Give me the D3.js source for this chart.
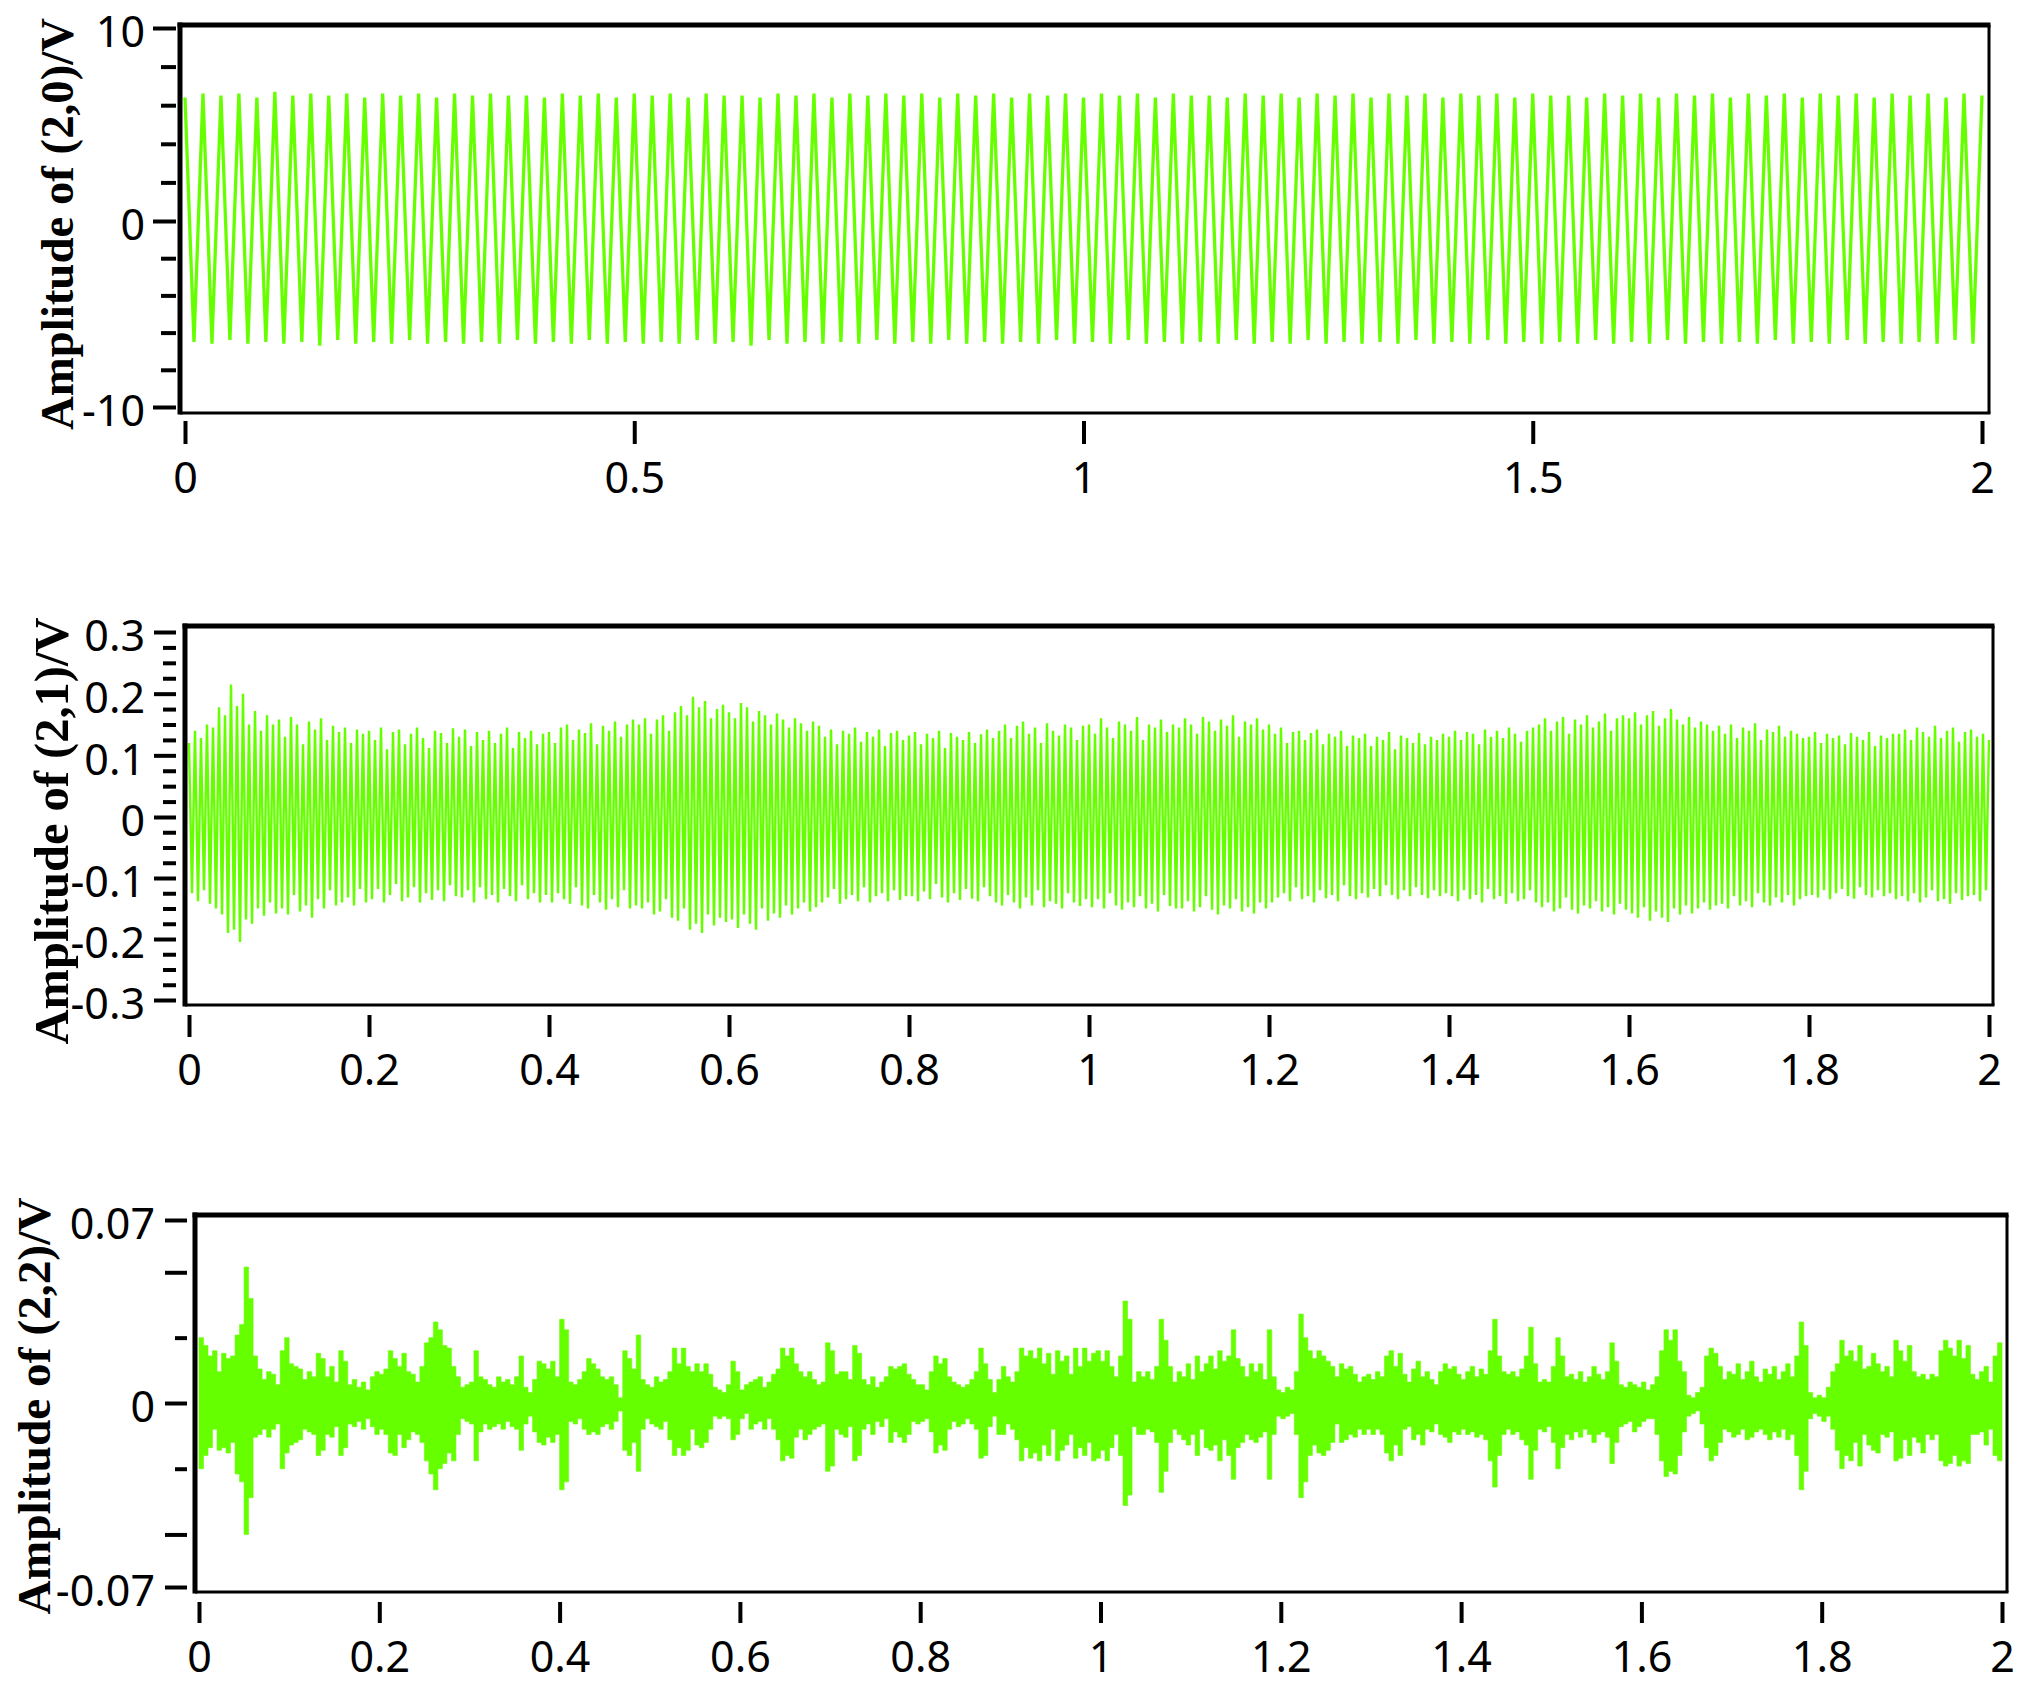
<!DOCTYPE html>
<html><head><meta charset="utf-8">
<script src="https://cdn.jsdelivr.net/npm/d3@7"></script>
<style>html,body{margin:0;padding:0;background:#fff}svg{display:block}</style>
</head><body>
<svg id="chart" width="2037" height="1693"></svg>
<script>
// ---------------- DATA ----------------
// Panel 1: (2,0) component, ~50 Hz -> one positive and one negative peak every 0.02 s
const p1PeakPeriod = 0.02;
const p1PeakHi = [6.4,6.6,6.5,6.6,6.4,6.7,6.5,6.6,6.5,6.6,6.4,6.6,6.5,6.6,6.4,6.6,6.5,6.6,6.5,6.5,
6.4,6.6,6.5,6.6,6.4,6.6,6.5,6.6,6.4,6.6,6.5,6.5,6.4,6.6,6.5,6.6,6.4,6.6,6.5,6.6,
6.5,6.6,6.4,6.6,6.5,6.6,6.4,6.6,6.5,6.6,6.4,6.6,6.5,6.6,6.4,6.6,6.5,6.5,6.4,6.6,
6.5,6.6,6.4,6.6,6.5,6.6,6.4,6.6,6.5,6.6,6.4,6.6,6.5,6.6,6.4,6.6,6.5,6.5,6.4,6.6,
6.5,6.6,6.4,6.6,6.5,6.6,6.4,6.6,6.5,6.6,6.4,6.6,6.5,6.6,6.4,6.6,6.5,6.6,6.4,6.6,6.5];
const p1PeakLo = [-6.5,-6.6,-6.4,-6.6,-6.5,-6.6,-6.5,-6.7,-6.4,-6.6,-6.5,-6.6,-6.4,-6.6,-6.5,-6.6,-6.5,-6.6,-6.4,-6.6,
-6.5,-6.6,-6.4,-6.6,-6.5,-6.6,-6.5,-6.6,-6.4,-6.6,-6.5,-6.7,-6.4,-6.6,-6.5,-6.6,-6.5,-6.6,-6.4,-6.6,
-6.5,-6.6,-6.4,-6.6,-6.5,-6.6,-6.5,-6.6,-6.4,-6.6,-6.5,-6.6,-6.4,-6.6,-6.5,-6.6,-6.5,-6.6,-6.4,-6.6,
-6.5,-6.6,-6.4,-6.6,-6.5,-6.6,-6.5,-6.6,-6.4,-6.6,-6.5,-6.6,-6.4,-6.6,-6.5,-6.6,-6.5,-6.6,-6.4,-6.6,
-6.5,-6.6,-6.4,-6.6,-6.5,-6.6,-6.5,-6.6,-6.4,-6.6,-6.5,-6.6,-6.4,-6.6,-6.5,-6.6,-6.5,-6.6,-6.4,-6.6];

// Panel 2: (2,1) component, ~150 Hz -> peaks every 1/150 s, values in mV
const p2PeakPeriod = 1 / 150;
const p2PeakHiMilliV = [
120,140,128,150,145,178,165,215,180,200,150,172,140,165,150,
158,130,162,150,118,155,142,160,125,148,138,145,120,142,135,
140,125,145,110,138,142,118,135,145,128,112,140,136,120,144,
130,142,115,138,125,140,120,135,145,112,138,128,140,118,135,
138,120,145,150,125,142,136,152,118,148,140,155,130,150,158,
150,160,135,158,165,140,170,180,165,195,178,188,160,175,182,
170,160,185,178,155,172,165,150,168,158,145,160,152,140,155,
148,130,142,118,140,135,145,122,138,130,142,115,136,140,125,
132,138,118,135,128,140,112,136,130,125,138,120,134,142,128,
140,150,128,148,155,135,145,120,152,140,132,150,145,125,148,
150,135,160,145,128,155,150,140,162,125,150,145,158,138,150,
145,160,150,135,162,155,140,158,148,165,130,155,150,160,142,
150,135,145,120,138,140,125,136,142,118,135,130,140,115,132,
128,135,115,130,125,138,110,132,128,120,136,118,130,125,135,
130,140,125,138,135,118,142,130,140,128,145,135,122,140,145,
150,160,140,155,162,135,158,150,165,145,155,168,140,160,165,
160,170,150,165,172,148,160,175,158,150,162,145,155,150,140,
148,135,150,128,145,140,152,125,142,138,148,130,140,135,128,
130,138,120,135,128,132,118,136,130,125,138,115,132,128,135,
135,142,125,145,138,130,148,128,140,145,122,138,142,130,135,125];
const p2PeakLoMilliV = [
-125,-138,-120,-142,-150,-160,-190,-185,-205,-168,-175,-150,-162,-140,-158,
-150,-160,-128,-155,-145,-165,-135,-150,-120,-145,-140,-132,-145,-118,-140,
-135,-118,-140,-128,-110,-138,-132,-115,-140,-125,-136,-120,-138,-112,-130,
-132,-120,-140,-115,-135,-128,-140,-118,-130,-138,-112,-135,-125,-140,-128,
-140,-125,-135,-142,-115,-145,-150,-128,-140,-152,-135,-148,-120,-150,-145,
-150,-140,-160,-155,-135,-165,-170,-150,-185,-175,-190,-160,-178,-165,-172,
-168,-182,-160,-175,-185,-150,-170,-158,-165,-145,-160,-150,-140,-155,-148,
-140,-132,-118,-142,-135,-128,-138,-115,-140,-130,-125,-138,-120,-136,-130,
-130,-138,-122,-135,-110,-132,-140,-125,-136,-118,-134,-138,-115,-130,-140,
-145,-128,-140,-150,-132,-145,-120,-148,-138,-142,-150,-125,-140,-146,-135,
-148,-135,-150,-125,-145,-152,-140,-148,-130,-150,-142,-155,-128,-146,-150,
-150,-138,-155,-148,-130,-152,-160,-145,-150,-135,-155,-148,-158,-140,-150,
-140,-132,-125,-138,-115,-135,-130,-140,-120,-133,-128,-138,-112,-130,-135,
-125,-132,-118,-130,-112,-128,-135,-120,-130,-115,-128,-133,-120,-130,-125,
-130,-138,-120,-135,-128,-140,-118,-135,-130,-142,-125,-138,-135,-120,-140,
-148,-140,-155,-150,-132,-152,-158,-145,-150,-138,-155,-148,-160,-142,-152,
-158,-165,-148,-170,-155,-165,-172,-150,-160,-145,-158,-150,-140,-152,-145,
-142,-150,-130,-145,-138,-148,-125,-140,-145,-132,-140,-128,-145,-135,-130,
-128,-132,-120,-135,-125,-118,-130,-134,-115,-128,-132,-120,-130,-125,-135,
-130,-138,-125,-140,-132,-120,-138,-135,-142,-125,-136,-130,-128,-138,-120];

// Panel 3: (2,2) component, noise band: max / min per 0.005 s column, values in mV
const p3ColumnStep = 0.005;
const p3ColumnHiMilliV = [
25,22,18,20,12,19,17,18,26,30,52,40,18,13,9,12,11,7,20,25,
15,14,13,9,12,10,19,17,10,14,8,20,16,7,9,6,8,5,10,12,
11,13,20,17,14,19,12,11,8,14,23,25,31,28,22,21,14,10,6,7,
8,20,10,9,7,6,10,8,9,7,10,18,6,4,9,16,15,13,16,10,
32,28,8,7,9,12,17,15,13,10,9,10,7,2,20,17,13,26,9,7,
6,10,8,9,12,21,15,21,14,12,15,12,15,11,6,5,4,7,16,12,
5,7,8,9,10,6,8,11,13,21,18,21,15,12,10,12,9,7,8,23,
20,11,12,12,9,22,19,9,7,10,6,8,10,14,13,14,15,11,9,7,
7,5,12,18,15,17,10,8,7,6,7,9,12,21,15,9,4,9,14,10,
8,12,21,18,20,17,21,15,19,11,20,16,18,11,21,14,21,16,19,20,
16,20,14,10,18,39,32,8,12,10,12,9,14,32,24,14,8,12,10,15,
9,18,12,15,18,13,20,16,18,28,17,14,10,15,12,15,9,28,10,5,
4,6,5,12,34,25,20,17,20,18,16,14,10,15,13,14,11,8,10,11,
9,12,10,18,20,14,19,11,8,13,16,10,12,9,7,12,15,13,14,11,
9,12,14,10,13,11,20,32,18,12,11,12,10,13,18,29,15,8,9,8,
14,25,18,10,11,9,12,8,10,14,11,9,12,23,16,7,6,8,7,6,
8,5,7,10,20,28,24,28,16,12,3,2,4,6,18,21,19,14,9,12,
11,15,9,12,16,10,8,13,11,14,9,12,15,10,18,31,22,4,2,3,
2,6,12,15,24,18,20,16,22,13,14,19,15,12,14,10,24,20,16,22,
12,10,11,9,11,10,20,24,21,18,24,17,22,11,9,12,14,8,18,23];
const p3ColumnLoMilliV = [
-25,-20,-17,-10,-18,-17,-19,-15,-27,-30,-50,-36,-13,-12,-10,-13,-10,-8,-25,-19,
-16,-15,-14,-10,-11,-12,-20,-18,-12,-13,-9,-20,-17,-8,-9,-7,-10,-6,-9,-12,
-10,-12,-19,-20,-12,-17,-14,-11,-12,-15,-22,-27,-33,-25,-23,-19,-22,-12,-6,-7,
-8,-22,-11,-8,-10,-9,-8,-10,-7,-9,-10,-18,-8,-5,-11,-15,-16,-13,-15,-12,
-33,-30,-7,-8,-6,-10,-12,-11,-12,-9,-8,-10,-7,-3,-18,-20,-15,-26,-10,-6,
-8,-9,-10,-7,-14,-20,-17,-20,-18,-10,-16,-17,-15,-10,-5,-6,-5,-6,-14,-12,
-6,-4,-10,-8,-7,-10,-6,-10,-14,-22,-20,-21,-13,-10,-14,-12,-10,-9,-8,-26,
-24,-10,-12,-13,-9,-22,-20,-10,-8,-12,-7,-9,-6,-15,-11,-13,-15,-12,-7,-8,
-7,-6,-11,-19,-16,-18,-10,-7,-9,-8,-6,-8,-10,-21,-20,-9,-5,-12,-12,-8,
-10,-14,-22,-17,-21,-19,-22,-16,-20,-10,-22,-18,-16,-12,-21,-17,-20,-15,-22,-21,
-18,-22,-17,-12,-20,-39,-35,-9,-12,-12,-10,-11,-15,-34,-26,-15,-10,-12,-14,-16,
-12,-20,-10,-17,-18,-16,-22,-14,-20,-29,-17,-15,-12,-14,-15,-13,-11,-29,-12,-5,
-6,-5,-4,-12,-36,-30,-20,-16,-19,-20,-18,-15,-8,-15,-14,-12,-13,-10,-12,-10,
-12,-10,-12,-19,-22,-16,-20,-10,-9,-14,-12,-16,-10,-11,-8,-12,-13,-15,-11,-12,
-10,-12,-11,-13,-12,-14,-22,-32,-20,-12,-10,-12,-11,-14,-16,-29,-18,-10,-11,-9,
-15,-25,-17,-12,-14,-11,-13,-10,-12,-15,-12,-11,-13,-23,-15,-9,-8,-7,-11,-9,
-7,-6,-6,-12,-22,-28,-26,-27,-20,-11,-5,-4,-3,-8,-17,-22,-20,-15,-10,-11,
-13,-12,-10,-14,-13,-11,-10,-12,-14,-11,-13,-10,-14,-12,-20,-33,-26,-6,-4,-5,
-7,-5,-10,-18,-25,-20,-22,-15,-24,-12,-16,-18,-19,-12,-13,-11,-22,-21,-14,-20,
-13,-15,-19,-12,-14,-12,-22,-24,-23,-20,-24,-22,-23,-12,-12,-11,-16,-10,-20,-22];

// Axis ticks and labels
const p1YTicks = [10, 0, -10];
const p1YLabels = ["10", "0", "-10"];
const p1YMinorTicks = [8, 6, 4, 2, -2, -4, -6, -8];
const p1XTicks = [0, 0.5, 1, 1.5, 2];
const p1XLabels = ["0", "0.5", "1", "1.5", "2"];

const p2YTicks = [0.3, 0.2, 0.1, 0, -0.1, -0.2, -0.3];
const p2YLabels = ["0.3", "0.2", "0.1", "0", "-0.1", "-0.2", "-0.3"];
const p2YMinorTicks = [0.275,0.25,0.225,0.175,0.15,0.125,0.075,0.05,0.025,-0.025,-0.05,-0.075,-0.125,-0.15,-0.175,-0.225,-0.25,-0.275];

const p3YTicks = [0.07, 0.05, 0, -0.05, -0.07];
const p3YLabels = ["0.07", "", "0", "", "-0.07"];
const p3YMinorTicks = [0.025, -0.025];

const p23XTicks = [0, 0.2, 0.4, 0.6, 0.8, 1, 1.2, 1.4, 1.6, 1.8, 2];
const p23XLabels = ["0", "0.2", "0.4", "0.6", "0.8", "1", "1.2", "1.4", "1.6", "1.8", "2"];

const titles = ["Amplitude of (2,0)/V", "Amplitude of (2,1)/V", "Amplitude of (2,2)/V"];

// ---------------- LAYOUT ----------------
const GREEN = "#66ff00";
const TICK_FONT = "'Noto Sans','Open Sans',sans-serif";
const TITLE_FONT = "'Liberation Serif','Times New Roman',serif";

const panels = [
  { frame:{l:180,t:25,r:1989,b:413}, xRange:[185,1982], yDomain:[-10,0,10], yRange:[407,221,28],
    yAxisX:176, majorLen:23, minorLen:15, labelRight:145, xAxisY:421, xTickLen:23, xLabelY:478,
    title:{x:73,y:224,size:47,len:412},
    yTicks:p1YTicks, yLabels:p1YLabels, yMinor:p1YMinorTicks, xTicks:p1XTicks, xLabels:p1XLabels },
  { frame:{l:185,t:626,r:1993,b:1005}, xRange:[189,1989], yDomain:[-0.3,0,0.3], yRange:[1000,817,632],
    yAxisX:176, majorLen:22, minorLen:13, labelRight:145, xAxisY:1015, xTickLen:22, xLabelY:1070,
    title:{x:68,y:831,size:48,len:427},
    yTicks:p2YTicks, yLabels:p2YLabels, yMinor:p2YMinorTicks, xTicks:p23XTicks, xLabels:p23XLabels },
  { frame:{l:195,t:1215,r:2007,b:1592}, xRange:[199,2002], yDomain:[-0.07,0,0.07], yRange:[1587,1403,1220],
    yAxisX:187, majorLen:22, minorLen:12, labelRight:155, xAxisY:1602, xTickLen:21, xLabelY:1657,
    title:{x:50,y:1406,size:47,len:417},
    yTicks:p3YTicks, yLabels:p3YLabels, yMinor:p3YMinorTicks, xTicks:p23XTicks, xLabels:p23XLabels }
];

const svg = d3.select("#chart");
svg.append("rect").attr("width",2037).attr("height",1693).attr("fill","#fff");

panels.forEach((p) => {
  p.x = d3.scaleLinear().domain([0, 2]).range(p.xRange);
  p.y = d3.scaleLinear().domain(p.yDomain).range(p.yRange);
});

// ---------------- SIGNALS ----------------
// Panel 1 zig-zag between peaks
{
  const p = panels[0];
  const pts = [];
  p1PeakHi.forEach((v, k) => {
    pts.push([k * p1PeakPeriod, v]);
    if (k < p1PeakLo.length) pts.push([(k + 0.5) * p1PeakPeriod, p1PeakLo[k]]);
  });
  svg.append("path").datum(pts)
    .attr("d", d3.line().x(d => p.x(d[0])).y(d => p.y(d[1])))
    .attr("fill","none").attr("stroke",GREEN).attr("stroke-width",3.3).attr("stroke-linejoin","bevel");
}
// Panel 2 zig-zag between peaks
{
  const p = panels[1];
  const pts = [];
  p2PeakHiMilliV.forEach((v, k) => {
    pts.push([k * p2PeakPeriod, v / 1000]);
    if (k < p2PeakLoMilliV.length) pts.push([(k + 0.5) * p2PeakPeriod, p2PeakLoMilliV[k] / 1000]);
  });
  svg.append("path").datum(pts)
    .attr("d", d3.line().x(d => p.x(d[0])).y(d => p.y(d[1])))
    .attr("fill","none").attr("stroke",GREEN).attr("stroke-width",2.4).attr("stroke-linejoin","bevel");
}
// Panel 3 min/max band per column
{
  const p = panels[2];
  const n = Math.min(p3ColumnHiMilliV.length, p3ColumnLoMilliV.length);
  const cols = [];
  for (let i = 0; i < n; i++) cols.push({ t: i * p3ColumnStep, hi: p3ColumnHiMilliV[i] / 1000, lo: p3ColumnLoMilliV[i] / 1000 });
  cols.push({ t: n * p3ColumnStep, hi: cols[n-1].hi, lo: cols[n-1].lo });
  svg.append("path").datum(cols)
    .attr("d", d3.area().curve(d3.curveStepAfter).x(d => p.x(d.t)).y0(d => p.y(d.lo)).y1(d => p.y(d.hi)))
    .attr("fill", GREEN).attr("stroke", GREEN).attr("stroke-width", 0.6);
}

// ---------------- FRAMES, AXES, TITLES ----------------
panels.forEach((p, idx) => {
  const f = p.frame;
  const g = svg.append("g");
  g.append("line").attr("x1",f.r).attr("y1",f.t).attr("x2",f.r).attr("y2",f.b).attr("stroke","#000").attr("stroke-width",3);
  g.append("line").attr("x1",f.l).attr("y1",f.b).attr("x2",f.r+1.5).attr("y2",f.b).attr("stroke","#000").attr("stroke-width",3);
  g.append("line").attr("x1",f.l).attr("y1",f.t-2.5).attr("x2",f.l).attr("y2",f.b+1.5).attr("stroke","#000").attr("stroke-width",5);
  g.append("line").attr("x1",f.l-2.5).attr("y1",f.t).attr("x2",f.r+1.5).attr("y2",f.t).attr("stroke","#000").attr("stroke-width",5);

  const ya = svg.append("g").attr("transform", `translate(${p.yAxisX},0)`)
    .call(d3.axisLeft(p.y).tickValues(p.yTicks).tickSize(p.majorLen)
      .tickPadding(p.yAxisX - p.majorLen - p.labelRight)
      .tickFormat(d => p.yLabels[p.yTicks.indexOf(d)]));
  ya.select(".domain").remove();
  ya.selectAll(".tick line").attr("stroke","#000").attr("stroke-width",4);
  ya.selectAll(".tick text").attr("fill","#000").attr("y",5)
    .style("font-family",TICK_FONT).style("font-size","43px");
  const ym = svg.append("g").attr("transform", `translate(${p.yAxisX},0)`)
    .call(d3.axisLeft(p.y).tickValues(p.yMinor).tickSize(p.minorLen).tickFormat(""));
  ym.select(".domain").remove();
  ym.selectAll(".tick line").attr("stroke","#000").attr("stroke-width",4);

  const xa = svg.append("g").attr("transform", `translate(0,${p.xAxisY})`)
    .call(d3.axisBottom(p.x).tickValues(p.xTicks).tickSize(p.xTickLen)
      .tickFormat(d => p.xLabels[p.xTicks.indexOf(d)]));
  xa.select(".domain").remove();
  xa.selectAll(".tick line").attr("stroke","#000").attr("stroke-width",4);
  xa.selectAll(".tick text").attr("fill","#000").attr("y", p.xLabelY - p.xAxisY).attr("dy","0.36em")
    .style("font-family",TICK_FONT).style("font-size","43px");

  svg.append("text")
    .attr("transform", `translate(${p.title.x},${p.title.y}) rotate(-90)`)
    .attr("text-anchor","middle")
    .attr("textLength", p.title.len).attr("lengthAdjust","spacingAndGlyphs")
    .style("font-family",TITLE_FONT).style("font-weight","bold").style("font-size", p.title.size + "px")
    .attr("fill","#000")
    .text(titles[idx]);
});
</script>
</body></html>
